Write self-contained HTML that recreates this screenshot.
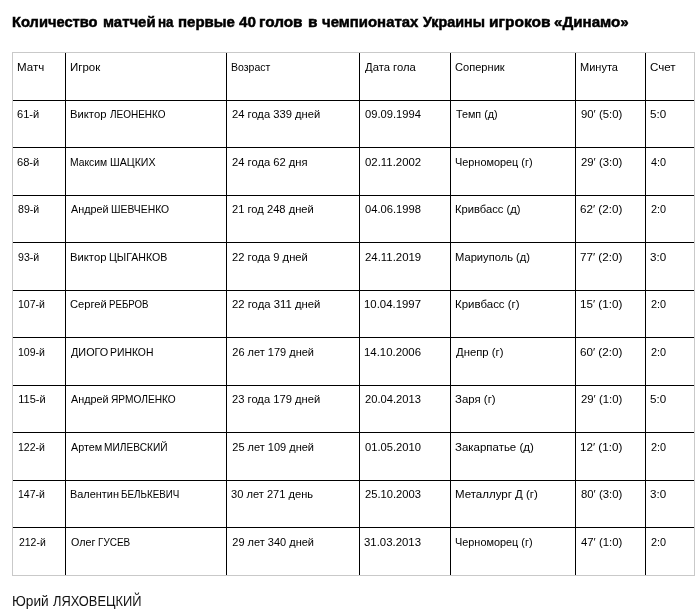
<!DOCTYPE html>
<html><head><meta charset="utf-8"><style>
html,body{margin:0;padding:0;background:#fff;width:700px;height:616px;overflow:hidden;position:relative}
body{font-family:"Liberation Sans",sans-serif;color:#000}
.h{position:absolute;height:1px;background:#000}
.v{position:absolute;width:1px;background:#000}
.g{background:#c9c9c9}
div.t,div.ti,div.s{position:absolute;white-space:nowrap;transform-origin:0 0}
.t{font-size:11px;line-height:13px;color:#000}
.ti{font-weight:bold;-webkit-text-stroke:0.5px #000;font-size:15px;line-height:18px;color:#000}
.s{font-size:14px;line-height:16px;color:#111}
</style></head><body><div style="position:absolute;left:0;top:0;width:700px;height:616px;will-change:transform">

<div class="ti" style="left:12.02px;top:13px;transform:scaleX(0.979)">Количество</div>
<div class="ti" style="left:103.01px;top:13px;transform:scaleX(0.994)">матчей</div>
<div class="ti" style="left:158.11px;top:13px;transform:scaleX(0.894)">на</div>
<div class="ti" style="left:178.00px;top:13px">первые</div>
<div class="ti" style="left:239.40px;top:13px;transform:scaleX(1.012)">40</div>
<div class="ti" style="left:259.28px;top:13px;transform:scaleX(1.022)">голов</div>
<div class="ti" style="left:307.98px;top:13px;transform:scaleX(1.025)">в</div>
<div class="ti" style="left:321.71px;top:13px;transform:scaleX(0.995)">чемпионатах</div>
<div class="ti" style="left:422.70px;top:13px;transform:scaleX(0.955)">Украины</div>
<div class="ti" style="left:489.27px;top:13px;transform:scaleX(1.033)">игроков</div>
<div class="ti" style="left:554.49px;top:13px;transform:scaleX(1.010)">«Динамо»</div>
<div class="h" style="left:13px;top:100px;width:681px"></div>
<div class="h" style="left:13px;top:147px;width:681px"></div>
<div class="h" style="left:13px;top:195px;width:681px"></div>
<div class="h" style="left:13px;top:242px;width:681px"></div>
<div class="h" style="left:13px;top:290px;width:681px"></div>
<div class="h" style="left:13px;top:337px;width:681px"></div>
<div class="h" style="left:13px;top:385px;width:681px"></div>
<div class="h" style="left:13px;top:432px;width:681px"></div>
<div class="h" style="left:13px;top:480px;width:681px"></div>
<div class="h" style="left:13px;top:527px;width:681px"></div>
<div class="v" style="left:65px;top:53px;height:522px"></div>
<div class="v" style="left:226px;top:53px;height:522px"></div>
<div class="v" style="left:359px;top:53px;height:522px"></div>
<div class="v" style="left:450px;top:53px;height:522px"></div>
<div class="v" style="left:575px;top:53px;height:522px"></div>
<div class="v" style="left:645px;top:53px;height:522px"></div>
<div class="h g" style="left:12px;top:52px;width:683px"></div>
<div class="h g" style="left:12px;top:575px;width:683px"></div>
<div class="v g" style="left:12px;top:52px;height:524px"></div>
<div class="v g" style="left:694px;top:52px;height:524px"></div>
<div class="t" style="left:16.95px;top:61px;transform:scaleX(1.050)">Матч</div>
<div class="t" style="left:69.96px;top:61px;transform:scaleX(1.043)">Игрок</div>
<div class="t" style="left:231.04px;top:61px;transform:scaleX(0.955)">Возраст</div>
<div class="t" style="left:364.80px;top:61px;transform:scaleX(1.024)">Дата гола</div>
<div class="t" style="left:454.99px;top:61px;transform:scaleX(1.008)">Соперник</div>
<div class="t" style="left:580.00px;top:61px">Минута</div>
<div class="t" style="left:649.75px;top:61px;transform:scaleX(1.052)">Счет</div>
<div class="t" style="left:16.99px;top:108px;transform:scaleX(1.010)">61-й</div>
<div class="t" style="left:69.98px;top:108px;transform:scaleX(1.024)">Виктор</div>
<div class="t" style="left:109.60px;top:108px;transform:scaleX(0.908)">ЛЕОНЕНКО</div>
<div class="t" style="left:232.30px;top:108px;transform:scaleX(1.017)">24 года 339 дней</div>
<div class="t" style="left:365.00px;top:108px;transform:scaleX(1.016)">09.09.1994</div>
<div class="t" style="left:456.00px;top:108px;transform:scaleX(0.979)">Темп (д)</div>
<div class="t" style="left:581.00px;top:108px;transform:scaleX(1.031)">90′ (5:0)</div>
<div class="t" style="left:650.24px;top:108px;transform:scaleX(1.057)">5:0</div>
<div class="t" style="left:16.99px;top:156px;transform:scaleX(1.010)">68-й</div>
<div class="t" style="left:70.06px;top:156px;transform:scaleX(0.939)">Максим</div>
<div class="t" style="left:109.63px;top:156px;transform:scaleX(0.965)">ШАЦКИХ</div>
<div class="t" style="left:232.30px;top:156px;transform:scaleX(1.018)">24 года 62 дня</div>
<div class="t" style="left:365.00px;top:156px;transform:scaleX(1.035)">02.11.2002</div>
<div class="t" style="left:455.01px;top:156px;transform:scaleX(0.990)">Черноморец (г)</div>
<div class="t" style="left:581.00px;top:156px;transform:scaleX(1.031)">29′ (3:0)</div>
<div class="t" style="left:651.30px;top:156px;transform:scaleX(0.987)">4:0</div>
<div class="t" style="left:18.00px;top:203px;transform:scaleX(0.964)">89-й</div>
<div class="t" style="left:71.20px;top:203px;transform:scaleX(0.982)">Андрей</div>
<div class="t" style="left:110.56px;top:203px;transform:scaleX(0.942)">ШЕВЧЕНКО</div>
<div class="t" style="left:232.30px;top:203px;transform:scaleX(1.015)">21 год 248 дней</div>
<div class="t" style="left:365.00px;top:203px;transform:scaleX(1.016)">04.06.1998</div>
<div class="t" style="left:454.98px;top:203px;transform:scaleX(1.019)">Кривбасс (д)</div>
<div class="t" style="left:579.94px;top:203px;transform:scaleX(1.058)">62′ (2:0)</div>
<div class="t" style="left:651.30px;top:203px;transform:scaleX(0.987)">2:0</div>
<div class="t" style="left:18.00px;top:251px;transform:scaleX(0.964)">93-й</div>
<div class="t" style="left:69.98px;top:251px;transform:scaleX(1.024)">Виктор</div>
<div class="t" style="left:108.64px;top:251px;transform:scaleX(0.964)">ЦЫГАНКОВ</div>
<div class="t" style="left:232.30px;top:251px;transform:scaleX(1.018)">22 года 9 дней</div>
<div class="t" style="left:365.00px;top:251px;transform:scaleX(1.035)">24.11.2019</div>
<div class="t" style="left:454.98px;top:251px;transform:scaleX(1.015)">Мариуполь (д)</div>
<div class="t" style="left:579.94px;top:251px;transform:scaleX(1.058)">77′ (2:0)</div>
<div class="t" style="left:650.24px;top:251px;transform:scaleX(1.057)">3:0</div>
<div class="t" style="left:18.34px;top:298px;transform:scaleX(0.959)">107-й</div>
<div class="t" style="left:69.59px;top:298px;transform:scaleX(1.014)">Сергей</div>
<div class="t" style="left:108.72px;top:298px;transform:scaleX(0.879)">РЕБРОВ</div>
<div class="t" style="left:232.30px;top:298px;transform:scaleX(1.029)">22 года 311 дней</div>
<div class="t" style="left:363.96px;top:298px;transform:scaleX(1.035)">10.04.1997</div>
<div class="t" style="left:454.96px;top:298px;transform:scaleX(1.043)">Кривбасс (г)</div>
<div class="t" style="left:579.94px;top:298px;transform:scaleX(1.058)">15′ (1:0)</div>
<div class="t" style="left:651.30px;top:298px;transform:scaleX(0.987)">2:0</div>
<div class="t" style="left:18.34px;top:346px;transform:scaleX(0.959)">109-й</div>
<div class="t" style="left:70.60px;top:346px;transform:scaleX(0.986)">ДИОГО</div>
<div class="t" style="left:109.65px;top:346px;transform:scaleX(0.945)">РИНКОН</div>
<div class="t" style="left:232.30px;top:346px">26 лет 179 дней</div>
<div class="t" style="left:363.96px;top:346px;transform:scaleX(1.035)">14.10.2006</div>
<div class="t" style="left:456.00px;top:346px;transform:scaleX(1.028)">Днепр (г)</div>
<div class="t" style="left:579.94px;top:346px;transform:scaleX(1.058)">60′ (2:0)</div>
<div class="t" style="left:651.30px;top:346px;transform:scaleX(0.987)">2:0</div>
<div class="t" style="left:18.30px;top:393px">115-й</div>
<div class="t" style="left:71.20px;top:393px;transform:scaleX(0.982)">Андрей</div>
<div class="t" style="left:110.58px;top:393px;transform:scaleX(0.923)">ЯРМОЛЕНКО</div>
<div class="t" style="left:232.30px;top:393px;transform:scaleX(1.017)">23 года 179 дней</div>
<div class="t" style="left:365.00px;top:393px;transform:scaleX(1.016)">20.04.2013</div>
<div class="t" style="left:454.96px;top:393px;transform:scaleX(1.039)">Заря (г)</div>
<div class="t" style="left:581.00px;top:393px;transform:scaleX(1.031)">29′ (1:0)</div>
<div class="t" style="left:650.24px;top:393px;transform:scaleX(1.057)">5:0</div>
<div class="t" style="left:18.34px;top:441px;transform:scaleX(0.959)">122-й</div>
<div class="t" style="left:71.20px;top:441px;transform:scaleX(0.977)">Артем</div>
<div class="t" style="left:103.68px;top:441px;transform:scaleX(0.924)">МИЛЕВСКИЙ</div>
<div class="t" style="left:232.30px;top:441px">25 лет 109 дней</div>
<div class="t" style="left:365.00px;top:441px;transform:scaleX(1.016)">01.05.2010</div>
<div class="t" style="left:454.96px;top:441px;transform:scaleX(1.042)">Закарпатье (д)</div>
<div class="t" style="left:579.94px;top:441px;transform:scaleX(1.058)">12′ (1:0)</div>
<div class="t" style="left:651.30px;top:441px;transform:scaleX(0.987)">2:0</div>
<div class="t" style="left:18.34px;top:488px;transform:scaleX(0.959)">147-й</div>
<div class="t" style="left:69.61px;top:488px;transform:scaleX(0.992)">Валентин</div>
<div class="t" style="left:120.81px;top:488px;transform:scaleX(0.894)">БЕЛЬКЕВИЧ</div>
<div class="t" style="left:231.29px;top:488px;transform:scaleX(1.009)">30 лет 271 день</div>
<div class="t" style="left:365.00px;top:488px;transform:scaleX(1.016)">25.10.2003</div>
<div class="t" style="left:454.96px;top:488px;transform:scaleX(1.045)">Металлург Д (г)</div>
<div class="t" style="left:581.00px;top:488px;transform:scaleX(1.031)">80′ (3:0)</div>
<div class="t" style="left:650.24px;top:488px;transform:scaleX(1.057)">3:0</div>
<div class="t" style="left:18.60px;top:536px;transform:scaleX(0.950)">212-й</div>
<div class="t" style="left:70.60px;top:536px;transform:scaleX(0.976)">Олег</div>
<div class="t" style="left:98.49px;top:536px;transform:scaleX(0.906)">ГУСЕВ</div>
<div class="t" style="left:232.30px;top:536px">29 лет 340 дней</div>
<div class="t" style="left:363.96px;top:536px;transform:scaleX(1.035)">31.03.2013</div>
<div class="t" style="left:455.01px;top:536px;transform:scaleX(0.990)">Черноморец (г)</div>
<div class="t" style="left:581.00px;top:536px;transform:scaleX(1.031)">47′ (1:0)</div>
<div class="t" style="left:651.30px;top:536px;transform:scaleX(0.987)">2:0</div>
<div class="s" style="left:12.02px;top:593px;transform:scaleX(0.978)">Юрий</div>
<div class="s" style="left:53.00px;top:593px;transform:scaleX(0.918)">ЛЯХОВЕЦКИЙ</div>
</div></body></html>
